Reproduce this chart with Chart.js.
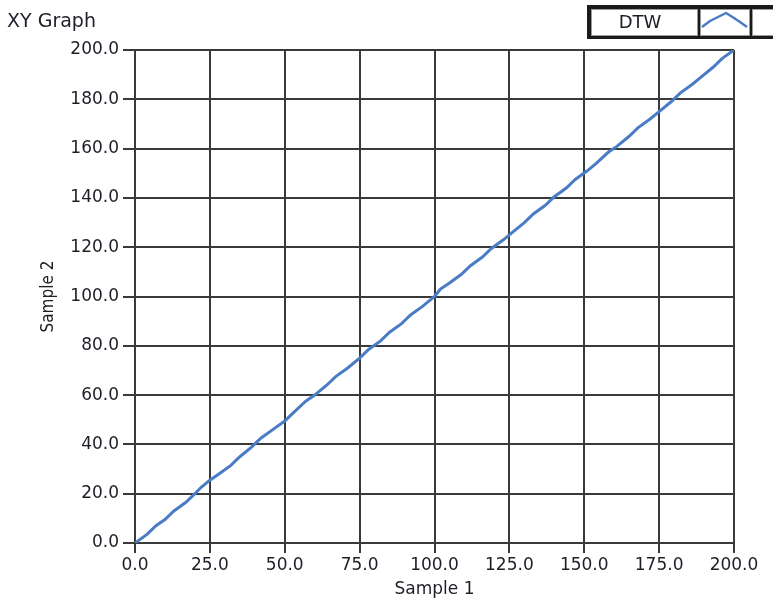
<!DOCTYPE html>
<html>
<head>
<meta charset="utf-8">
<title>XY Graph</title>
<script src="https://cdn.jsdelivr.net/npm/chart.js@4/dist/chart.umd.min.js"></script>
<style>
  html, body { margin: 0; padding: 0; background: #ffffff; }
  #wrap { position: relative; width: 773px; height: 601px; }
</style>
</head>
<body>
<div id="wrap"><canvas id="xy" width="773" height="601"></canvas></div>
<script>
// Warping path: position in Sample 1 against matched position in Sample 2
const sampleOne = [0, 4, 7, 10, 13, 17, 20, 22, 25, 28, 32, 35, 39, 42, 46, 50, 53, 57, 60, 64,
  67, 71, 75, 78, 82, 85, 89, 92, 96, 99, 100, 101, 102, 105, 109, 112, 116, 119, 123, 126,
  130, 133, 137, 140, 144, 147, 151, 154, 158, 161, 165, 168, 172, 175, 179, 182, 186, 189, 193, 196, 200];
const sampleTwo = [0, 3.5, 7, 9.5, 13, 16.5, 20, 22.5, 25.5, 28, 31.5, 35, 39, 42.5, 46, 49.5, 53, 57.5, 60, 64,
  67.5, 71, 75, 78.5, 82, 85.5, 89, 92.5, 96, 99, 100, 101.5, 103, 105.5, 109, 112.5, 116, 119.5, 123, 126,
  130, 133.5, 137, 140.5, 144, 147.5, 151, 154, 158.5, 161, 165, 168.5, 172, 175, 179, 182.5, 186, 189, 193, 196.5, 200];

const xTickStep = 25;
const yTickStep = 20;
const axisMax = 200;
const seriesName = 'DTW';

const textColor = '#1e1e28';
const gridColor = '#3a3a3a';
const lineColor = '#4a7cc6';
const fontFamily = '"DejaVu Sans", "Noto Sans", sans-serif';
const narrowFamily = '"DejaVu Sans Condensed", "DejaVu Sans", sans-serif';

const points = sampleOne.map((x, i) => ({ x: x, y: sampleTwo[i] }));

// Graph caption and the boxed plot legend in the top strip
const frameDecor = {
  id: 'frameDecor',
  afterDraw(chart) {
    const ctx = chart.ctx;
    ctx.save();
    ctx.fillStyle = textColor;
    ctx.font = '19px ' + fontFamily;
    ctx.textAlign = 'left';
    ctx.textBaseline = 'alphabetic';
    ctx.fillText('XY Graph', 7, 27);

    // legend frame
    ctx.fillStyle = '#1a1a1a';
    ctx.fillRect(587, 5, 190, 34);
    const cells = [[591, 9, 107, 27], [700, 9, 50, 27], [752, 9, 25, 27]];
    cells.forEach(c => {
      ctx.fillStyle = '#ffffff';
      ctx.fillRect(c[0], c[1], c[2], c[3]);
      ctx.strokeStyle = '#9a9a9a';
      ctx.lineWidth = 1;
      ctx.strokeRect(c[0] + 0.5, c[1] + 0.5, c[2] - 1, c[3] - 1);
    });
    ctx.fillStyle = textColor;
    ctx.font = '18px ' + fontFamily;
    ctx.textAlign = 'center';
    ctx.textBaseline = 'alphabetic';
    ctx.fillText(seriesName, 640, 28);

    // plot style swatch
    ctx.strokeStyle = lineColor;
    ctx.lineWidth = 2.5;
    ctx.lineJoin = 'round';
    ctx.beginPath();
    ctx.moveTo(702, 27);
    ctx.lineTo(710, 21);
    ctx.lineTo(716, 18);
    ctx.lineTo(726, 13);
    ctx.lineTo(734, 18);
    ctx.lineTo(740, 22);
    ctx.lineTo(747, 27);
    ctx.stroke();
    ctx.restore();
  }
};

new Chart(document.getElementById('xy'), {
  type: 'scatter',
  data: {
    datasets: [{
      label: seriesName,
      data: points,
      showLine: true,
      borderColor: lineColor,
      borderWidth: 3,
      pointRadius: 0,
      pointHoverRadius: 0,
      tension: 0,
      fill: false
    }]
  },
  options: {
    responsive: false,
    animation: false,
    events: [],
    layout: { padding: { left: 0, top: 50, right: 39, bottom: 0 } },
    plugins: {
      legend: { display: false },
      title: { display: false },
      tooltip: { enabled: false }
    },
    scales: {
      x: {
        type: 'linear',
        min: 0,
        max: axisMax,
        afterFit(scale) { scale.height = 58; },
        ticks: {
          stepSize: xTickStep,
          color: textColor,
          font: { family: fontFamily, size: 17 },
          padding: 2,
          maxRotation: 0,
          callback: v => Number(v).toFixed(1)
        },
        grid: { color: gridColor, lineWidth: 2, tickLength: 10, drawTicks: true },
        border: { color: gridColor, width: 2 },
        title: {
          display: true,
          text: 'Sample 1',
          color: textColor,
          font: { family: fontFamily, size: 17 },
          padding: { top: 0, bottom: 1 }
        }
      },
      y: {
        type: 'linear',
        min: 0,
        max: axisMax,
        afterFit(scale) { scale.width = 135; },
        ticks: {
          stepSize: yTickStep,
          color: textColor,
          font: { family: fontFamily, size: 17 },
          padding: 4,
          callback: v => Number(v).toFixed(1)
        },
        grid: { color: gridColor, lineWidth: 2, tickLength: 12, drawTicks: true },
        border: { color: gridColor, width: 2 },
        title: {
          display: true,
          text: 'Sample 2',
          color: textColor,
          font: { family: narrowFamily, size: 17 },
          padding: { top: 38, bottom: 0 }
        }
      }
    }
  },
  plugins: [frameDecor]
});
</script>
</body>
</html>
